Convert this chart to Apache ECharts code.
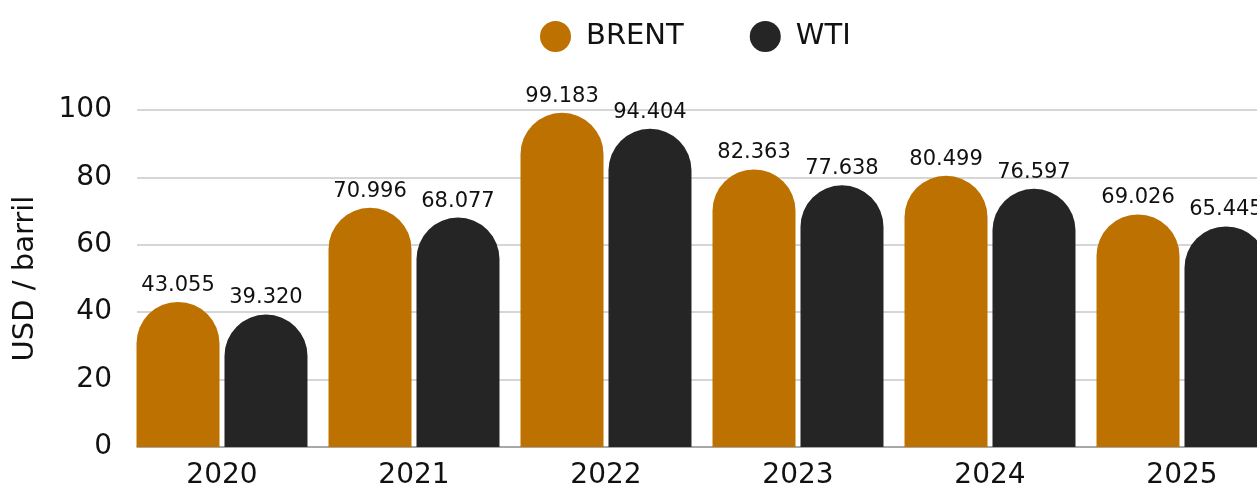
<!DOCTYPE html>
<html>
<head>
<meta charset="utf-8">
<script src="https://cdn.jsdelivr.net/npm/echarts@6/dist/echarts.min.js"></script>
<style>
html,body{margin:0;padding:0;overflow:hidden;background:#fff;}
#c{width:1300px;height:486px;}
</style>
</head>
<body>
<div id="c"></div>
<script>
const categories = ['2020','2021','2022','2023','2024','2025'];
const brent = [43.055, 70.996, 99.183, 82.363, 80.499, 69.026];
const wti = [39.320, 68.077, 94.404, 77.638, 76.597, 65.445];
const yTicks = [0, 20, 40, 60, 80, 100];

const FONT = 'DejaVu Sans';
const chart = echarts.init(document.getElementById('c'), null, {renderer:'canvas'});
const labelCfg = {
  show: true, position: 'top', distance: 6,
  fontFamily: FONT, fontSize: 21, color: '#111',
  formatter: p => p.value.toFixed(3)
};
chart.setOption({
  animation: false,
  textStyle: {fontFamily: FONT},
  legend: {
    left: 535, top: 16,
    icon: 'circle', itemWidth: 31, itemHeight: 31, itemGap: 66,
    textStyle: {fontFamily: FONT, fontSize: 29, color: '#111', padding:[0,0,0,10]},
    data: ['BRENT','WTI']
  },
  grid: [
    {left: 126, top: 110, width: 1152, bottom: 39, containLabel: false, outerBoundsMode: 'none'},
    {left: 137, top: 110, width: 1141, bottom: 39, containLabel: false, outerBoundsMode: 'none'}
  ],
  xAxis: [
    {
      type: 'category', data: categories, gridIndex: 0,
      axisLine: {show: false},
      axisTick: {show: false},
      axisLabel: {fontFamily: FONT, fontSize: 28, color: '#111', margin: 15}
    },
    {
      type: 'category', data: categories, gridIndex: 1,
      axisLine: {lineStyle: {color: '#999', width: 1.5}},
      axisTick: {show: false}, axisLabel: {show: false}
    }
  ],
  yAxis: [
    {
      type: 'value', gridIndex: 0, min: yTicks[0], max: yTicks[yTicks.length-1], interval: 20,
      name: 'USD / barril', nameLocation: 'middle', nameGap: 86, nameRotate: 90,
      nameTextStyle: {fontFamily: FONT, fontSize: 29, color: '#111'},
      axisLine: {show: false}, axisTick: {show: false},
      axisLabel: {fontFamily: FONT, fontSize: 28, color: '#111', margin: 14},
      splitLine: {show: false}
    },
    {
      type: 'value', gridIndex: 1, min: yTicks[0], max: yTicks[yTicks.length-1], interval: 20,
      axisLine: {show: false}, axisTick: {show: false}, axisLabel: {show: false},
      splitLine: {lineStyle: {color: '#c8c8c8', width: 1.5}}
    }
  ],
  series: [
    {name: 'BRENT', type: 'bar', data: brent, barWidth: 83, barGap: '6%', z: 3,
     itemStyle: {color: '#BC7100', borderRadius: [41.5,41.5,0,0]}, label: labelCfg},
    {name: 'WTI', type: 'bar', data: wti, barWidth: 83, z: 3,
     itemStyle: {color: '#252525', borderRadius: [41.5,41.5,0,0]}, label: labelCfg}
  ]
});
</script>
</body>
</html>
